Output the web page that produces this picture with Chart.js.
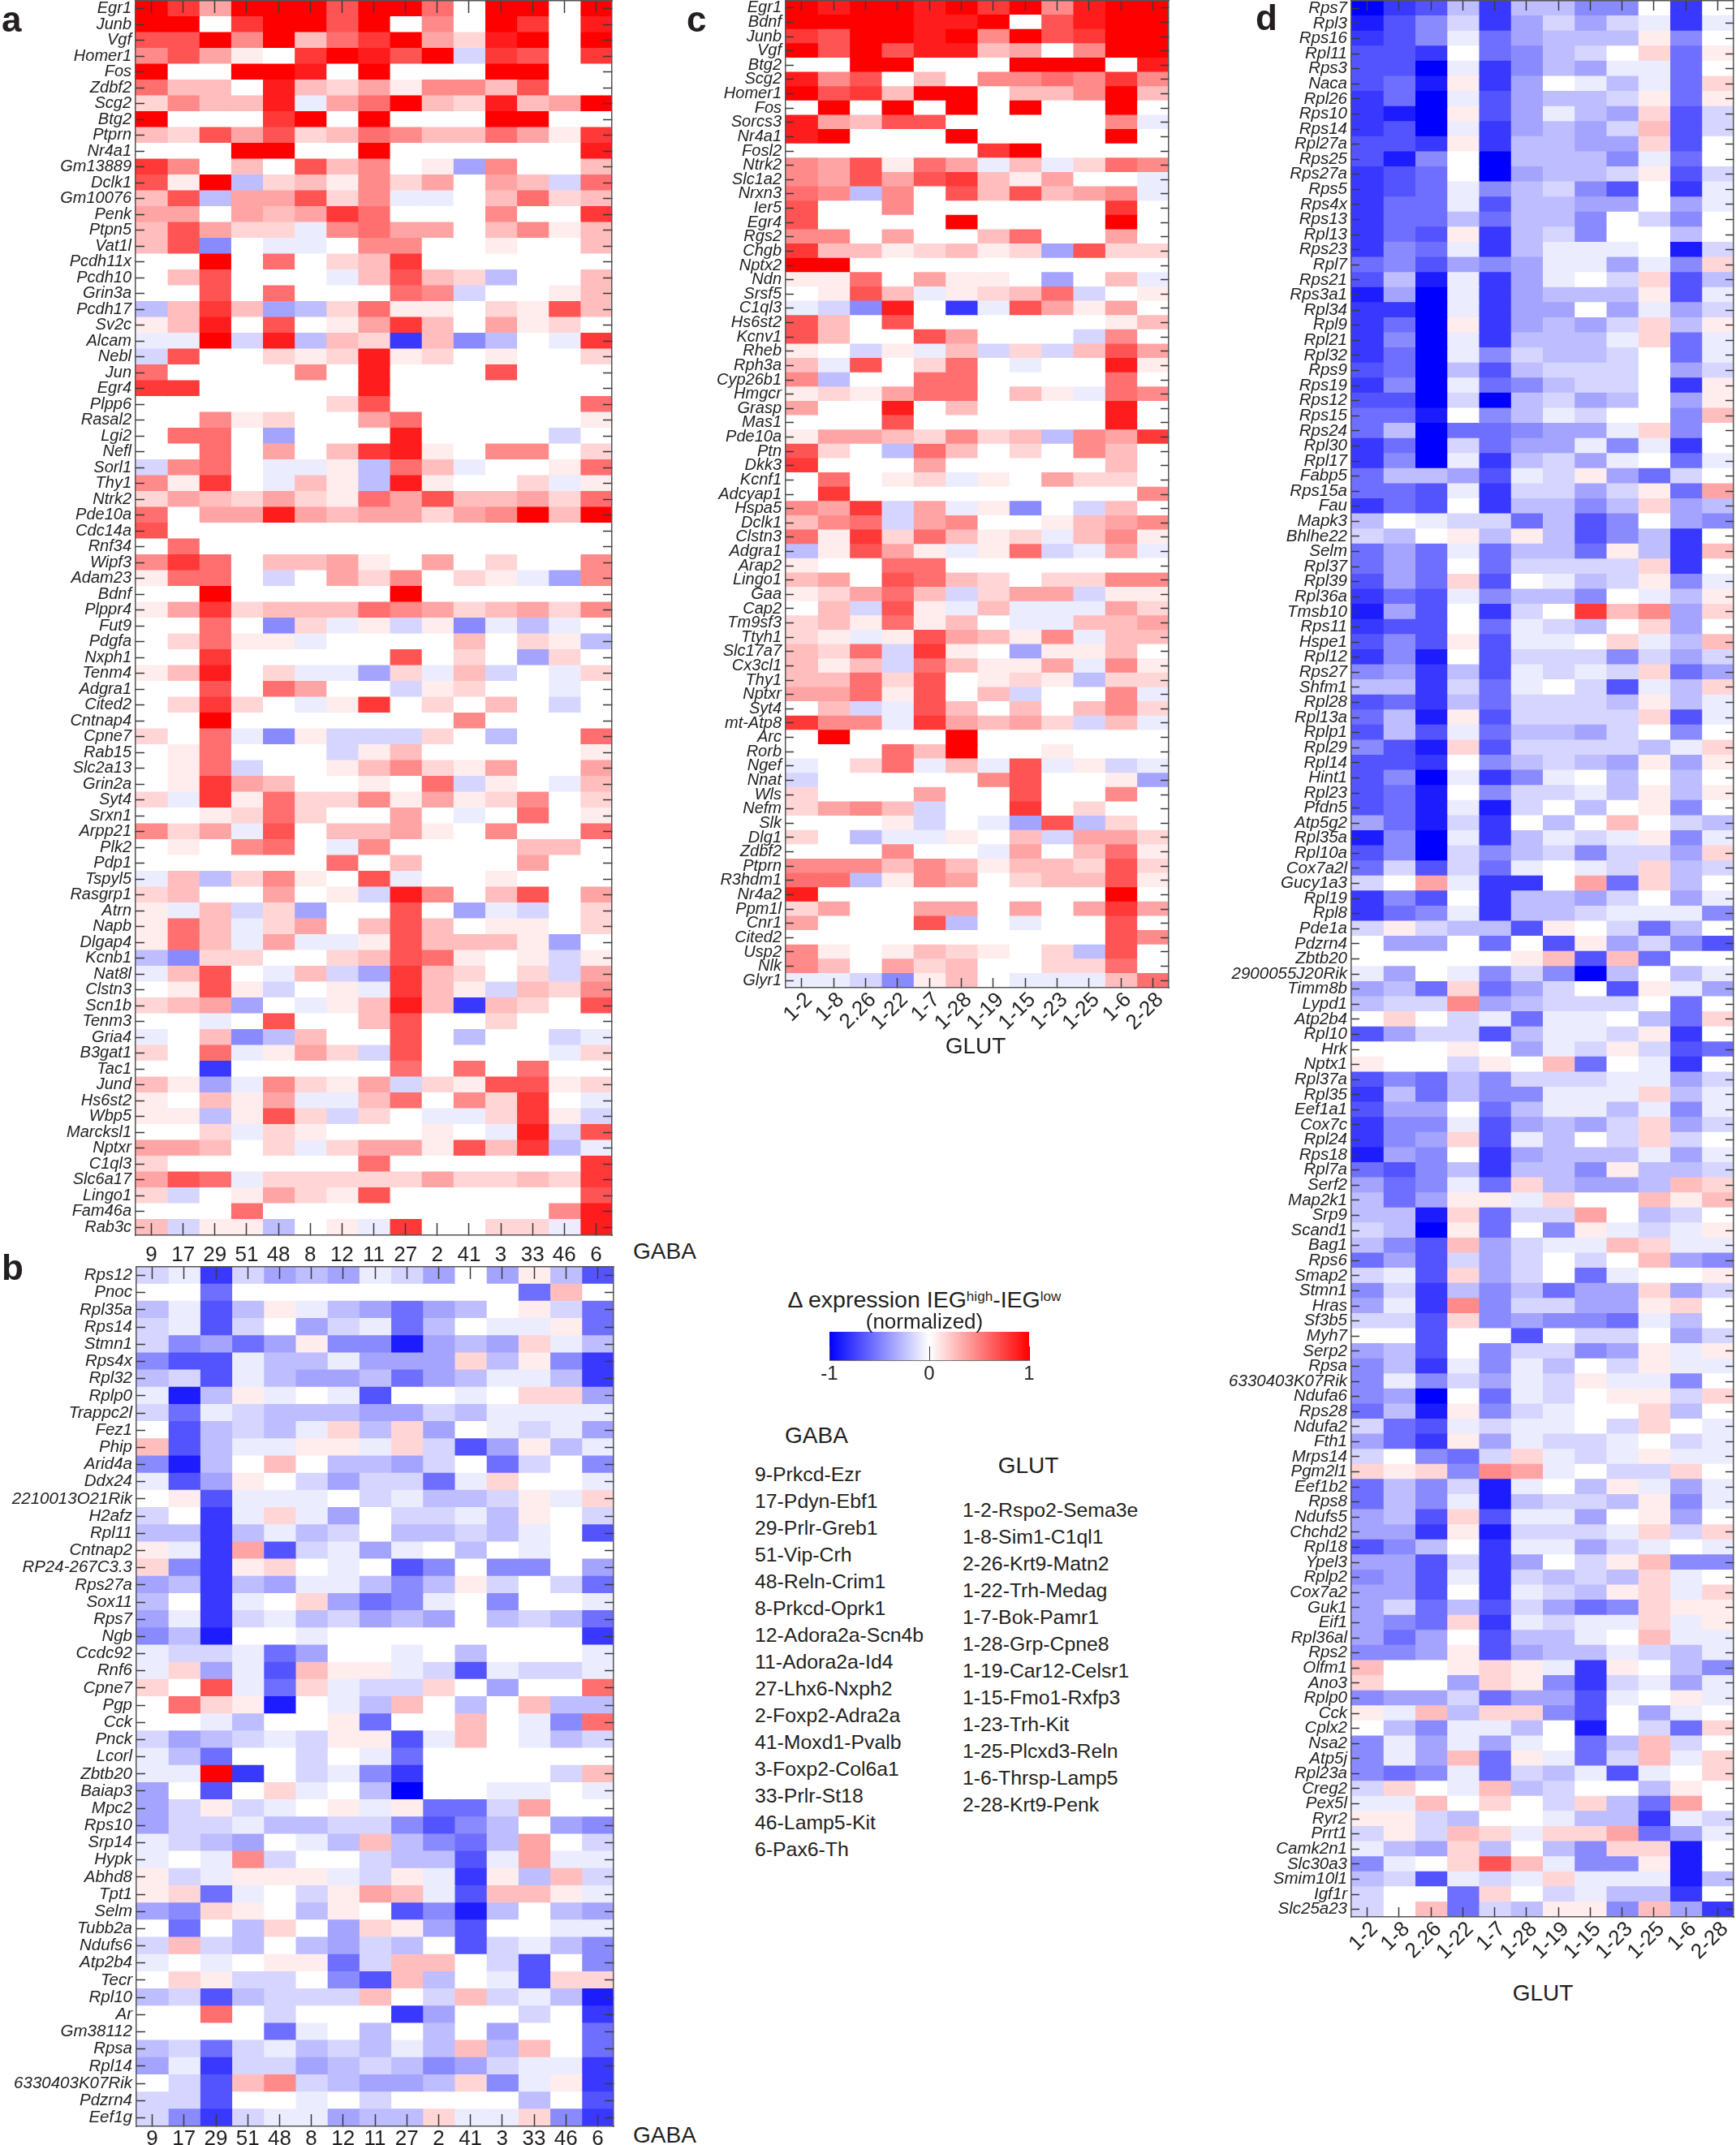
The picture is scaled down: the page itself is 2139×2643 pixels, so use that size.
<!DOCTYPE html>
<html>
<head>
<meta charset="utf-8">
<title>IEG heatmaps</title>
<script src="https://cdn.jsdelivr.net/npm/chart.js@4"></script>
<style>
  html, body { margin: 0; padding: 0; background: #fff; }
  body { position: relative; width: 2139px; height: 2643px; overflow: hidden; font-family: "Liberation Sans", Arial, sans-serif; color: #231f20; }
  canvas { position: absolute; }
  .txt { position: absolute; white-space: nowrap; line-height: 1; }
  .letter { font-weight: bold; font-size: 44px; }
  sup { font-size: 60%; vertical-align: baseline; position: relative; top: -0.45em; }
</style>
</head>
<body>
<script>
// x axis labels
const gabaClusters = ['9','17','29','51','48','8','12','11','27','2','41','3','33','46','6'];
const glutClusters = ['1-2','1-8','2.26','1-22','1-7','1-28','1-19','1-15','1-23','1-25','1-6','2-28'];

// legends
const gabaNames = ['9-Prkcd-Ezr','17-Pdyn-Ebf1','29-Prlr-Greb1','51-Vip-Crh','48-Reln-Crim1','8-Prkcd-Oprk1','12-Adora2a-Scn4b','11-Adora2a-Id4','27-Lhx6-Nxph2','2-Foxp2-Adra2a','41-Moxd1-Pvalb','3-Foxp2-Col6a1','33-Prlr-St18','46-Lamp5-Kit','6-Pax6-Th'];
const glutNames = ['1-2-Rspo2-Sema3e','1-8-Sim1-C1ql1','2-26-Krt9-Matn2','1-22-Trh-Medag','1-7-Bok-Pamr1','1-28-Grp-Cpne8','1-19-Car12-Celsr1','1-15-Fmo1-Rxfp3','1-23-Trh-Kit','1-25-Plcxd3-Reln','1-6-Thrsp-Lamp5','2-28-Krt9-Penk'];

// panel a, values in tenths (-10 blue .. 10 red)
const genesA = ['Egr1','Junb','Vgf','Homer1','Fos','Zdbf2','Scg2','Btg2','Ptprn','Nr4a1','Gm13889','Dclk1','Gm10076','Penk','Ptpn5','Vat1l','Pcdh11x','Pcdh10','Grin3a','Pcdh17','Sv2c','Alcam','Nebl','Jun','Egr4','Plpp6','Rasal2','Lgi2','Nefl','Sorl1','Thy1','Ntrk2','Pde10a','Cdc14a','Rnf34','Wipf3','Adam23','Bdnf','Plppr4','Fut9','Pdgfa','Nxph1','Tenm4','Adgra1','Cited2','Cntnap4','Cpne7','Rab15','Slc2a13','Grin2a','Syt4','Srxn1','Arpp21','Plk2','Pdp1','Tspyl5','Rasgrp1','Atrn','Napb','Dlgap4','Kcnb1','Nat8l','Clstn3','Scn1b','Tenm3','Gria4','B3gat1','Tac1','Jund','Hs6st2','Wbp5','Marcksl1','Nptxr','C1ql3','Slc6a17','Lingo1','Fam46a','Rab3c'];
const valuesA = [
[10,8,4,10,10,10,7,10,10,6,0,10,10,0,10],
[10,10,0,8,10,10,7,10,0,5,0,10,8,0,9],
[7,7,10,5,10,3,6,8,10,4,2,9,10,0,10],
[5,7,4,1,0,8,10,9,7,10,-2,8,7,0,8],
[10,0,0,10,10,9,0,10,0,0,0,10,10,0,0],
[6,3,3,0,9,3,2,4,1,5,5,3,7,0,0],
[2,5,3,3,9,-1,4,6,10,3,2,9,3,4,10],
[10,0,0,0,8,10,0,10,0,0,0,10,10,0,0],
[3,2,7,4,7,2,3,6,5,3,3,6,4,1,8],
[0,0,0,10,10,0,0,10,0,0,0,0,0,0,9],
[8,5,0,3,0,7,3,5,0,1,-4,5,0,0,3],
[7,1,10,-3,2,3,1,5,2,4,0,4,3,-2,6],
[3,7,-3,4,4,7,2,5,-1,-1,0,3,6,2,3],
[4,4,0,4,3,4,8,6,0,0,0,5,0,0,8],
[3,7,4,2,2,-1,5,6,4,4,0,3,5,1,3],
[3,7,-5,0,-1,-1,0,5,5,0,0,1,0,0,3],
[0,0,10,0,6,0,2,3,8,0,0,0,0,0,0],
[0,3,7,0,0,0,-1,3,7,3,2,-3,0,0,3],
[0,0,7,0,6,0,0,0,6,5,-2,0,0,1,3],
[-3,3,8,3,-4,-3,2,6,1,1,0,2,1,7,3],
[1,3,9,0,7,0,1,4,8,3,0,4,1,2,0],
[-1,-1,10,-2,9,-3,3,2,-8,3,-5,-3,0,-1,8],
[-2,7,0,0,2,1,2,9,1,2,0,1,0,0,2],
[6,0,0,0,0,5,0,9,0,0,0,7,0,0,0],
[8,8,0,0,0,0,0,9,0,0,0,0,0,0,0],
[0,0,0,0,0,0,2,7,0,0,0,0,0,0,6],
[0,0,5,1,2,0,0,4,6,0,0,0,0,0,1],
[0,6,6,0,-4,0,0,0,9,0,0,0,0,-2,0],
[0,0,6,0,4,0,3,8,9,1,0,5,5,0,2],
[-2,5,6,0,-1,-1,1,-3,6,3,-1,0,0,1,6],
[5,1,8,0,-1,3,1,-3,9,1,0,0,2,-1,1],
[2,4,3,2,4,2,1,6,4,7,3,3,4,2,6],
[6,0,4,4,9,4,3,4,4,2,4,5,10,3,10],
[7,0,0,0,0,0,0,0,0,0,0,0,0,0,0],
[0,6,0,0,0,0,0,0,0,0,0,0,0,0,0],
[5,8,6,0,3,3,4,1,0,4,0,2,0,0,5],
[1,6,6,0,-2,0,4,2,5,0,2,1,-1,-4,5],
[0,0,10,0,0,0,0,0,10,0,0,0,0,0,0],
[1,4,8,2,3,3,3,6,5,4,2,3,4,2,5],
[0,0,6,0,-5,2,-1,1,-2,1,-5,-1,-3,-1,0],
[0,2,6,1,1,-1,0,0,0,0,3,0,2,1,-3],
[0,0,8,0,0,0,0,0,7,0,2,0,-4,2,0],
[1,3,9,0,2,-1,-1,-4,2,-1,3,-2,0,-1,2],
[0,0,7,0,6,4,0,0,-2,1,2,0,0,-1,0],
[0,2,8,2,0,-1,1,8,0,2,0,3,0,-2,0],
[0,0,10,0,0,0,0,0,0,0,5,0,0,0,0],
[2,0,6,-1,-5,1,-2,-2,-2,2,0,-3,0,0,6],
[0,1,6,0,0,0,-2,1,3,0,0,0,0,0,1],
[0,1,6,-2,0,0,1,3,5,2,1,4,0,0,4],
[0,1,8,4,3,0,0,1,0,6,-2,1,0,-1,3],
[2,-1,8,1,6,2,2,5,1,4,1,2,5,0,2],
[0,0,1,2,6,2,0,0,4,0,-1,0,6,0,1],
[5,2,4,-1,7,0,3,3,4,1,0,5,0,0,6],
[0,1,0,5,6,0,-1,5,0,0,0,0,3,3,0],
[0,0,0,0,0,0,6,0,3,0,0,0,4,0,0],
[-1,3,-3,2,5,1,0,7,-1,0,0,1,0,0,0],
[2,3,0,0,4,0,1,-2,9,5,0,3,7,0,4],
[1,-1,3,-2,2,-4,0,0,7,0,-4,-1,-2,0,2],
[1,6,3,-1,2,4,0,3,7,3,0,1,1,0,2],
[1,6,3,-1,4,-1,-1,1,7,3,3,3,1,-4,0],
[-3,-5,2,2,0,0,2,3,7,6,1,0,1,-2,1],
[-1,3,7,0,-1,3,-2,-4,8,3,2,0,2,-2,4],
[0,1,7,1,-2,0,1,-1,8,3,1,-2,3,2,5],
[2,3,4,-4,0,-1,1,3,9,3,-8,3,2,0,7],
[0,0,-1,0,7,0,0,3,7,0,0,2,0,0,0],
[-1,0,3,-5,-3,3,0,0,7,0,-3,0,0,-2,-1],
[2,0,6,-1,1,4,2,-2,7,0,0,0,0,-1,2],
[0,0,-8,0,0,0,0,0,6,0,6,0,6,0,0],
[3,1,-4,-1,5,2,1,4,-2,2,1,7,7,1,2],
[1,0,3,1,4,-1,-1,3,6,0,5,2,8,0,-1],
[1,1,-3,1,7,2,-2,2,0,-1,-1,2,8,1,-2],
[0,0,2,-1,2,1,0,0,0,1,0,-1,9,-2,7],
[4,4,3,0,2,-1,2,4,4,1,7,3,8,-3,-1],
[2,0,0,0,0,0,0,6,0,0,0,0,0,0,8],
[4,7,6,-1,2,2,2,2,2,4,2,2,3,2,8],
[2,-2,0,1,4,2,1,7,0,0,0,0,0,0,7],
[0,0,0,6,0,0,0,0,0,0,0,0,0,5,9],
[3,-2,1,1,-3,0,1,-1,8,0,0,2,2,-1,9]
];

// panel b
const genesB = ['Rps12','Pnoc','Rpl35a','Rps14','Stmn1','Rps4x','Rpl32','Rplp0','Trappc2l','Fez1','Phip','Arid4a','Ddx24','2210013O21Rik','H2afz','Rpl11','Cntnap2','RP24-267C3.3','Rps27a','Sox11','Rps7','Ngb','Ccdc92','Rnf6','Cpne7','Pgp','Cck','Pnck','Lcorl','Zbtb20','Baiap3','Mpc2','Rps10','Srp14','Hypk','Abhd8','Tpt1','Selm','Tubb2a','Ndufs6','Atp2b4','Tecr','Rpl10','Ar','Gm38112','Rpsa','Rpl14','6330403K07Rik','Pdzrn4','Eef1g'];
const valuesB = [
[-2,-1,-8,-2,-4,-3,-4,-1,-2,-4,0,-4,1,-3,-7],
[0,0,-6,0,0,0,0,0,0,0,0,0,-6,3,0],
[-3,-1,-7,-3,1,-1,-3,-4,-6,-4,-3,0,1,-2,-6],
[-2,-1,-7,-2,0,-4,-2,-1,-6,-3,0,-1,-1,1,-6],
[-2,-5,-4,-6,-4,1,-5,-5,-9,-4,-3,-4,2,-1,-3],
[-5,-7,-7,-1,-3,-3,-1,-4,-4,-4,2,-3,1,-5,-8],
[-3,-2,-7,-1,-3,-4,-4,-3,-6,-4,-3,-1,-1,-3,-8],
[-1,-9,-3,1,-1,0,-1,-7,0,0,-1,0,2,2,-4],
[-2,-6,-1,-2,-3,-3,-3,-4,-4,-2,-3,-1,-1,-1,-1],
[0,-7,-3,-2,-3,-1,2,-3,2,-4,0,-1,-2,-1,-4],
[3,-7,-3,-1,-1,1,1,-1,2,-2,-7,-4,1,-3,-1],
[-5,-9,-3,0,3,0,-3,-3,-4,-2,0,-6,-2,0,-5],
[-1,-7,-4,1,0,-2,-4,-2,-2,-6,-1,2,0,0,-1],
[0,1,-7,-1,-1,-1,0,-2,-1,-3,-3,-2,1,-1,2],
[-2,0,-8,-1,2,-1,-4,0,-2,-2,-1,-3,1,0,-2],
[-3,-3,-8,-3,-1,-3,-2,0,-3,-3,-2,-3,-1,0,-7],
[1,-1,-8,4,-7,-2,-1,-4,-1,0,-3,0,-1,0,0],
[2,-5,-8,1,2,0,-1,0,-7,-5,0,-5,-5,0,-4],
[-4,-3,-8,-3,-4,-1,-1,-3,-5,-3,1,-2,0,-2,-6],
[-3,0,-8,-1,0,2,-4,-6,-5,-1,0,-5,0,0,-1],
[-4,-1,-8,-2,-1,-3,-2,-4,-3,-4,0,-3,-2,-3,-6],
[-5,-3,-9,0,0,-1,0,0,0,0,0,0,0,0,-8],
[-1,-2,-2,-1,-6,-4,0,0,-1,0,-3,0,0,0,-1],
[-1,2,-4,-1,-7,3,1,1,-1,-2,-7,-1,-2,-2,-1],
[2,0,7,-1,-6,2,-1,-2,-2,2,0,-4,0,0,6],
[0,6,2,1,-9,0,-1,-3,3,0,-3,0,3,-3,-3],
[0,0,-1,-3,0,0,1,-6,0,0,3,0,-1,-5,6],
[-2,-4,-3,-2,-1,-2,1,1,-7,-1,3,0,-1,-3,-2],
[-1,-3,-6,0,0,-2,0,-1,-6,0,0,0,0,0,0],
[-1,-1,10,-8,0,-2,-1,-5,-8,0,0,0,0,-2,3],
[-4,0,-7,0,2,-1,0,-3,-10,0,0,-1,-1,0,-1],
[-4,-2,1,-2,-1,0,1,-1,1,-6,-6,-2,4,0,0],
[-4,-2,-2,-1,-3,-3,-2,-2,-5,-7,-5,-3,0,-4,-5],
[-1,-2,-3,-4,0,-1,-3,3,-3,-5,-6,-3,4,0,-2],
[-1,0,-1,5,-2,0,0,-2,-3,-3,-7,-1,4,-1,-1],
[1,-2,-1,1,1,1,-1,-2,1,-1,-8,1,-3,3,-2],
[1,2,-6,-1,0,-2,1,4,3,-1,-7,3,3,1,-1],
[-4,-5,2,1,0,-3,1,0,-7,-5,-9,-3,0,-3,-4],
[0,-6,0,-3,2,0,-4,2,1,-4,-7,0,0,-1,-1],
[-2,3,-2,-3,0,-3,-4,-2,-3,0,-7,-2,-1,-3,-5],
[-1,0,-1,0,1,1,-6,-2,3,3,0,-2,-7,0,-5],
[0,2,1,-2,-2,0,-5,-7,3,-3,0,-1,-7,2,2],
[-3,-2,-7,-3,-2,-2,-2,3,0,-2,3,-2,-1,-3,-9],
[0,0,6,0,-2,0,0,0,-8,-4,0,0,-2,0,-8],
[0,0,0,0,-6,-1,0,-3,0,-3,0,-4,0,0,-6],
[-3,-2,-6,-2,-1,-3,-2,-3,-1,-3,3,-3,3,0,-6],
[-4,-1,-8,-2,-2,-4,-3,-2,-3,-5,-4,-2,-1,-1,-8],
[0,-2,-7,3,5,-2,-3,-4,-4,-3,2,-5,-1,1,-8],
[-2,-2,-7,0,0,-1,0,-2,0,0,0,0,-3,0,-7],
[-2,-5,-8,-2,-1,-1,-4,-3,-3,2,-1,-1,2,-5,-8]
];

// panel c
const genesC = ['Egr1','Bdnf','Junb','Vgf','Btg2','Scg2','Homer1','Fos','Sorcs3','Nr4a1','Fosl2','Ntrk2','Slc1a2','Nrxn3','Ier5','Egr4','Rgs2','Chgb','Nptx2','Ndn','Srsf5','C1ql3','Hs6st2','Kcnv1','Rheb','Rph3a','Cyp26b1','Hmgcr','Grasp','Mas1','Pde10a','Ptn','Dkk3','Kcnf1','Adcyap1','Hspa5','Dclk1','Clstn3','Adgra1','Arap2','Lingo1','Gaa','Cap2','Tm9sf3','Ttyh1','Slc17a7','Cx3cl1','Thy1','Nptxr','Syt4','mt-Atp8','Arc','Rorb','Ngef','Nnat','Wls','Nefm','Slk','Dlg1','Zdbf2','Ptprn','R3hdm1','Nr4a2','Ppm1l','Cnr1','Cited2','Usp2','Nlk','Glyr1'];
const valuesC = [
[10,9,10,10,9,10,8,10,5,9,10,10],
[10,10,10,10,9,9,10,0,7,9,10,10],
[8,7,10,10,9,10,5,10,7,8,10,10],
[10,7,10,7,9,9,3,4,0,5,10,10],
[0,0,10,10,0,0,0,10,10,10,0,9],
[9,5,7,0,3,0,5,5,6,5,8,5],
[10,7,8,3,10,10,0,3,3,5,10,3],
[0,10,0,10,0,10,0,10,0,0,10,0],
[9,4,3,7,7,0,0,0,0,0,5,-1],
[9,10,0,0,0,10,0,0,0,0,10,0],
[0,0,0,0,0,0,8,10,0,0,0,0],
[5,4,7,1,6,4,-1,3,-1,2,6,5],
[5,4,7,4,7,8,3,1,4,0,0,-1],
[6,5,-3,5,0,7,3,7,3,4,5,-1],
[7,0,0,5,0,0,0,0,0,0,8,0],
[7,0,0,0,0,10,0,0,0,0,10,0],
[5,5,0,4,0,0,3,6,0,0,4,0],
[8,3,3,1,2,3,1,2,-4,7,2,2],
[10,10,0,0,0,0,0,0,0,0,0,0],
[1,1,6,0,4,1,1,0,-4,0,3,-1],
[0,1,7,3,-1,1,2,3,6,-2,0,1],
[-1,-2,-5,9,0,-8,-1,7,4,1,4,0],
[7,3,0,7,0,0,0,0,0,0,1,3],
[7,3,0,0,7,4,0,0,0,-2,5,0],
[1,0,-2,1,-1,3,-2,2,-2,3,7,4],
[3,-1,7,0,2,6,0,-1,0,0,9,1],
[5,-3,0,0,6,6,0,0,0,0,6,0],
[1,2,1,4,6,6,0,3,1,-1,6,5],
[4,0,0,9,0,3,0,0,0,0,9,0],
[0,0,0,7,0,0,0,0,0,0,9,0],
[1,4,4,3,2,5,2,3,-3,5,4,8],
[7,2,0,-3,6,3,0,2,0,5,3,0],
[8,0,0,0,4,0,0,0,0,0,3,0],
[0,6,0,1,2,-1,1,0,4,2,2,0],
[0,8,0,0,0,0,0,0,0,0,0,5],
[5,4,8,-2,4,-1,1,-5,0,-2,3,0],
[3,5,6,-2,4,5,0,0,1,3,4,5],
[6,1,8,2,6,3,1,2,-1,3,5,1],
[-3,1,7,4,1,-1,1,6,-2,-1,4,-1],
[1,0,0,6,6,0,0,0,0,0,0,0],
[3,4,0,7,6,3,2,0,2,2,5,5],
[1,2,4,6,3,-2,2,4,4,-2,1,1],
[0,3,-2,7,1,-1,3,-1,-1,-1,4,2],
[2,3,1,6,1,3,0,-1,-1,3,3,4],
[2,1,-1,1,7,4,3,1,5,-1,3,3],
[3,2,6,-2,8,1,0,-4,1,1,3,0],
[3,1,3,-2,6,3,1,1,4,-1,5,1],
[3,3,6,2,7,0,1,2,1,-3,2,2],
[4,4,6,1,7,0,3,-2,0,0,5,-1],
[0,3,-2,-1,7,3,0,3,0,3,5,2],
[8,5,5,-1,8,4,3,4,2,-2,3,-1],
[0,10,0,0,0,10,0,0,0,0,0,0],
[0,0,0,6,3,10,0,0,1,0,0,0],
[-1,0,2,6,-1,3,-1,7,-1,1,-2,-1],
[-2,0,0,0,0,0,5,7,0,0,1,-4],
[2,0,0,0,4,0,0,7,0,0,5,0],
[2,4,5,3,-2,0,0,8,0,2,0,0],
[0,0,0,1,-2,0,-1,-4,7,-3,2,0],
[2,0,-3,-1,-1,1,0,3,-2,4,4,2],
[0,0,0,5,0,0,-1,4,0,3,6,1],
[5,5,5,3,5,3,1,3,3,2,7,2],
[6,6,-3,1,5,4,0,2,3,3,7,1],
[9,0,0,0,0,0,0,0,0,0,10,0],
[2,4,0,0,4,4,0,4,0,4,8,4],
[4,0,0,0,7,-3,0,-1,0,0,7,0],
[0,0,0,0,0,0,0,0,0,0,7,5],
[5,1,0,1,3,2,1,0,2,-3,7,0],
[5,3,0,4,2,3,0,0,2,2,6,0],
[-1,-1,-2,-5,1,3,0,-1,-1,-1,3,6]
];

// panel d
const genesD = ['Rps7','Rpl3','Rps16','Rpl11','Rps3','Naca','Rpl26','Rps10','Rps14','Rpl27a','Rps25','Rps27a','Rps5','Rps4x','Rps13','Rpl13','Rps23','Rpl7','Rps21','Rps3a1','Rpl34','Rpl9','Rpl21','Rpl32','Rps9','Rps19','Rps12','Rps15','Rps24','Rpl30','Rpl17','Fabp5','Rps15a','Fau','Mapk3','Bhlhe22','Selm','Rpl37','Rpl39','Rpl36a','Tmsb10','Rps11','Hspe1','Rpl12','Rps27','Shfm1','Rpl28','Rpl13a','Rplp1','Rpl29','Rpl14','Hint1','Rpl23','Pfdn5','Atp5g2','Rpl35a','Rpl10a','Cox7a2l','Gucy1a3','Rpl19','Rpl8','Pde1a','Pdzrn4','Zbtb20','2900055J20Rik','Timm8b','Lypd1','Atp2b4','Rpl10','Hrk','Nptx1','Rpl37a','Rpl35','Eef1a1','Cox7c','Rpl24','Rps18','Rpl7a','Serf2','Map2k1','Srp9','Scand1','Bag1','Rps6','Smap2','Stmn1','Hras','Sf3b5','Myh7','Serp2','Rpsa','6330403K07Rik','Ndufa6','Rps28','Ndufa2','Fth1','Mrps14','Pgm2l1','Eef1b2','Rps8','Ndufs5','Chchd2','Rpl18','Ypel3','Rplp2','Cox7a2','Guk1','Eif1','Rpl36al','Rps2','Olfm1','Ano3','Rplp0','Cck','Cplx2','Nsa2','Atp5j','Rpl23a','Creg2','Pex5l','Ryr2','Prrt1','Camk2n1','Slc30a3','Smim10l1','Igf1r','Slc25a23'];
const valuesD = [
[-10,-8,-7,-3,-8,-3,-3,-5,-5,0,-8,0],
[-9,-7,-5,-2,-8,-4,-2,-4,-2,-1,-8,-1],
[-8,-7,-5,-1,-6,-4,-3,-3,-3,1,-5,0],
[-7,-7,-8,0,-6,-5,-3,-2,0,2,-6,1],
[-7,-7,-10,-1,-8,-5,-3,-4,-1,-1,-6,0],
[-7,-6,-9,1,-8,-4,0,-1,-3,-1,-6,2],
[-8,-6,-10,-1,-7,-4,-3,-3,-2,1,-6,1],
[-8,-9,-10,1,-7,-4,-1,-3,-4,2,-7,-2],
[-8,-7,-10,-1,-8,-4,-3,-4,-2,3,-7,-2],
[-7,-7,-8,1,-8,-3,-3,-4,-4,2,-7,0],
[-7,-9,-5,0,-10,-3,-3,-3,-5,-1,-6,0],
[-8,-7,-6,0,-10,-4,-3,-3,-2,1,-7,-2],
[-8,-7,-6,-1,-5,-3,-2,-5,-7,0,-8,-1],
[-8,-6,-6,-1,-7,-3,-3,-4,-4,0,-4,-1],
[-8,-6,-6,-3,-6,-3,-3,-5,0,-2,-5,0],
[-8,-6,-7,1,-8,-3,-2,-5,0,0,-3,0],
[-8,-5,-6,-1,-8,-3,-1,-1,-1,0,-9,-2],
[-6,-5,-7,-4,-5,-4,-1,-1,-4,-1,-5,2],
[-7,-3,-9,-1,-8,-4,-1,0,-2,2,-7,-3],
[-9,-4,-10,-1,-8,-4,-3,-3,-3,1,-7,-1],
[-8,-8,-10,-1,-8,-4,-4,0,-4,-1,-4,-2],
[-8,-6,-10,1,-8,-4,-3,-4,-2,2,-3,1],
[-8,-5,-10,-1,-8,-3,-3,-3,-1,2,-6,-1],
[-8,-6,-10,-1,-5,-2,-3,-3,-2,0,-6,-1],
[-7,-6,-10,-3,-7,-3,-2,-2,-2,0,-4,-2],
[-8,-5,-10,-1,-6,-5,-3,-2,-2,0,-8,1],
[-7,-7,-10,-2,-10,-3,-2,-4,-3,0,-4,1],
[-6,-6,-9,0,-5,-3,-1,-2,0,0,-5,3],
[-6,-3,-10,-6,-6,-5,-4,-4,-1,2,-5,0],
[-8,-6,-10,-2,-6,-4,-4,-1,-5,-1,-8,0],
[-8,-5,-10,-1,-8,-3,-2,-4,-1,0,-6,-1],
[-6,-3,-3,-4,-7,-1,-2,1,-4,-6,-2,0],
[-6,-6,-7,-1,-8,-2,-2,-4,-2,1,-6,4],
[-8,-6,-7,0,-8,-3,-3,-5,-3,2,-4,-3],
[-3,0,-1,-2,-2,-6,-3,-7,-5,0,-4,-5],
[-2,-3,0,1,-3,1,-3,-7,-5,-3,-8,0],
[-6,-4,-6,-1,-6,-3,-3,-6,1,-3,-8,3],
[-6,-4,-6,0,-6,-2,-2,-2,-2,2,-8,0],
[-7,-4,-6,2,-7,0,-1,-3,-2,1,-5,-1],
[-8,-6,-7,-1,-5,-3,-3,-5,0,-1,-3,1],
[-9,-4,-7,0,-8,-2,0,8,3,5,-4,2],
[-8,-7,-7,0,-6,-1,-2,-3,0,2,-4,0],
[-7,-5,-7,1,-7,-1,-1,0,2,-1,-3,3],
[-8,-5,-9,0,-7,-2,-2,-2,-5,-2,-4,-2],
[-5,-4,-8,-3,-7,-1,-2,-1,-2,2,-6,-4],
[-3,-3,-8,-2,-6,-1,0,-2,-7,-1,-3,2],
[-7,-6,-8,-3,-6,-2,-2,-2,-3,1,-3,-1],
[-6,-3,-9,1,-7,-2,-2,-2,-2,2,-7,-1],
[-7,-3,-7,-1,-6,-3,-3,-4,-2,0,-5,0],
[-5,-7,-9,2,-7,-2,-2,-2,-2,-3,-1,2],
[-7,-7,-8,0,-5,-3,-2,-3,-4,1,-4,1],
[-7,-5,-10,-1,-8,-5,-1,0,-3,0,-3,0],
[-7,-6,-9,0,-5,-2,-2,-1,-3,1,-3,1],
[-7,-6,-9,-1,-9,-2,0,-3,0,1,-5,0],
[-4,-6,-9,-2,-8,0,-3,0,3,0,-2,-3],
[-9,-5,-10,-1,-8,-3,-1,-2,-1,1,-5,-1],
[-7,-5,-10,-2,-5,-3,-2,-5,-2,-2,-4,2],
[-6,-2,-7,-2,-6,-1,0,-1,-2,2,-3,-2],
[-2,0,4,-1,-8,-8,0,4,-6,2,-3,0],
[-8,-5,-7,0,-8,-3,-3,-4,-2,0,-4,-1],
[-8,-6,-5,-1,-8,-3,-3,-2,-1,-1,-1,-5],
[-2,1,-2,-3,-3,-7,1,0,-2,-6,-3,0],
[0,-4,-4,0,-6,0,-7,1,-4,-2,-5,-7],
[0,0,0,0,0,1,3,-7,3,-6,0,0],
[-1,-4,0,-1,-5,-2,-5,-10,-3,0,-3,-1],
[-4,-3,-6,2,-6,-4,-2,0,-7,1,-1,-4],
[-3,-2,-2,5,-4,-3,-2,-2,-2,0,-6,0],
[0,2,0,-2,-1,-6,-1,-1,0,-3,-6,2],
[-7,-4,-2,-2,-7,-3,-1,-1,-2,1,-8,0],
[0,0,0,1,0,-4,-1,-2,1,-2,-7,-6],
[1,0,0,-2,1,0,3,-6,0,-1,-8,0],
[-7,-5,-6,-3,-5,-2,-2,-2,-1,-1,-4,-2],
[-8,-3,-6,-3,-5,-5,-1,-1,-1,2,-3,-1],
[-7,-4,-4,0,-6,-3,-1,-1,-3,-1,-5,-1],
[-8,-5,-5,-1,-7,-4,-3,-4,-2,2,-4,-2],
[-8,-5,-4,2,-7,-1,-3,0,-2,2,-2,0],
[-9,-4,-5,0,-8,-4,-3,-3,-3,-1,-4,-1],
[-6,-7,-5,-3,-8,-3,-3,-5,1,-3,-3,-2],
[-4,-6,-5,-1,-6,2,-3,-4,-4,-3,3,2],
[-3,-6,-4,1,1,-1,2,0,0,3,1,3],
[-3,-3,-9,2,-6,-2,-2,4,0,-3,-2,0],
[-2,-3,-10,1,-6,0,-5,1,-1,-2,-1,1],
[-3,-5,-7,3,-4,-2,-1,-1,3,2,-1,-1],
[-6,-4,-7,-2,-4,-2,0,-2,0,3,-4,-5],
[-2,-1,-7,2,-4,-2,0,-6,-1,0,0,1],
[-5,-2,-8,-3,-5,-3,-6,-4,-4,2,-4,-2],
[-4,-1,-8,5,-5,-2,-2,-4,-4,1,2,0],
[-2,-2,-7,2,-5,-4,-5,-5,-6,-1,-3,0],
[0,0,-7,0,0,-7,0,-2,-2,0,-4,-2],
[-4,-3,-7,0,-5,-2,-2,-5,-4,1,-1,1],
[-5,-3,-8,-1,-5,-1,-3,0,-2,1,-1,-1],
[-5,-1,-5,-2,-4,-1,-2,1,-1,-1,-5,0],
[-5,-4,-10,0,-6,-1,-2,0,1,1,-2,2],
[-6,-3,-9,1,-5,-2,-1,0,0,2,-3,0],
[-2,-6,-7,-1,-2,-1,-1,0,-2,2,0,-1],
[-4,-6,-8,1,-4,-1,-2,-2,-1,0,-2,-1],
[-2,0,-5,-6,-2,2,-1,-2,-1,1,-1,-1],
[2,1,2,-5,5,4,-1,0,-2,-2,2,0],
[-6,-3,-5,-2,-9,-1,0,-3,1,-1,-4,-1],
[-6,-3,-5,-1,-9,-3,-2,-2,-3,1,-5,-1],
[-4,-3,-7,2,-7,-1,-1,-4,0,1,-4,0],
[-4,-4,-8,1,-9,-2,-2,-2,-1,2,-2,2],
[-7,-5,-3,0,-8,-1,-1,-4,-2,-1,0,-1],
[-4,-4,-7,-2,-8,-4,0,-2,1,3,-5,-5],
[-5,-4,-7,-1,-8,-2,-3,-2,-3,2,-1,0],
[-4,-4,-7,0,-8,-1,-2,-3,1,2,-1,2],
[-4,-2,-6,-3,-7,-2,-4,-6,-5,2,1,1],
[-4,-5,-6,2,-8,-1,-2,-1,-1,2,-1,1],
[-4,-6,-4,0,-7,-3,-3,-1,0,3,-1,-1],
[-5,-5,-4,1,-7,-4,-3,-3,-1,-2,-3,-1],
[3,0,0,1,2,1,-1,-8,1,0,-3,-5],
[2,0,0,-4,2,1,-5,-8,-2,-1,-4,-1],
[-5,-4,-4,-2,-6,-4,-4,-7,-1,0,1,-1],
[1,-1,3,-3,2,2,-5,-7,0,-4,-1,0],
[0,-3,-5,-1,-1,-3,0,-9,0,-2,-6,2],
[-5,-1,-4,-1,-4,-1,0,-6,-3,3,-2,0],
[-5,-1,-4,3,-6,1,-1,-6,-2,3,-1,2],
[-5,-6,-5,-1,-6,-2,-3,-1,-7,-1,0,2],
[-2,2,0,-1,3,-3,-2,0,0,-3,1,0],
[-1,-1,3,0,2,0,-2,2,-3,-6,4,0],
[1,1,-2,-3,0,0,-1,-3,-3,-8,-1,-2],
[-2,1,-2,3,2,-1,2,2,4,-6,-4,-1],
[-1,-3,-4,2,-3,0,-3,-5,2,2,-9,0],
[-5,-1,0,2,7,3,-1,-5,-5,1,-9,0],
[-3,-2,-7,-1,-2,-1,2,-1,-1,-1,-9,-3],
[-2,0,0,-6,2,0,-2,-1,-3,-3,-8,0],
[-2,0,3,-6,-2,-3,1,1,-5,3,-4,-8]
];

const inkColor = '#231f20';
const tickColor = '#3a3a3a';
const labelFont = '"Liberation Sans", Arial, sans-serif';

function cellColor(v) {
  const c = Math.round(255 * (1 - Math.pow(Math.abs(v) / 10, 1.12)));
  return v >= 0 ? `rgb(255,${c},${c})` : `rgb(${c},${c},255)`;
}

function addCanvas(left, top, width, height) {
  const c = document.createElement('canvas');
  c.width = width;
  c.height = height;
  c.style.left = left + 'px';
  c.style.top = top + 'px';
  c.style.width = width + 'px';
  c.style.height = height + 'px';
  document.body.appendChild(c);
  return c.getContext('2d');
}

function addText(html, left, top, cls, size, center) {
  const d = document.createElement('div');
  d.className = 'txt ' + (cls || '');
  d.innerHTML = html;
  d.style.left = left + 'px';
  d.style.top = top + 'px';
  if (size) d.style.fontSize = size + 'px';
  d.style.transform = center ? 'translate(-50%,-50%)' : 'translateY(-50%)';
  document.body.appendChild(d);
}

// axes keep a fixed size, without room for labels that stick out at the ends
function pinAxis(s, size) {
  if (s.isHorizontal()) s.height = size; else s.width = size;
  s.paddingTop = s.paddingBottom = s.paddingLeft = s.paddingRight = 0;
}

// p: plot box in page pixels, plus label settings
function heatmap(genes, clusters, values, p) {
  const leftW = p.left - p.canvasLeft;
  const plotW = p.right - p.left;
  const plotH = p.bottom - p.top;
  const ctx = addCanvas(p.canvasLeft, p.top - 1, leftW + plotW + 1, 1 + plotH + p.bottomH);

  const datasets = clusters.map((name, j) => ({
    label: name,
    data: genes.map(() => 1),
    backgroundColor: genes.map((g, i) => cellColor(values[i][j])),
    borderWidth: 0,
    inflateAmount: 0.5,
    barPercentage: 1,
    categoryPercentage: 1
  }));

  const centers = s => { s.ticks = clusters.map((c, i) => ({ value: i + 0.5 })); };
  const tickGrid = len => ({
    drawOnChartArea: false, drawTicks: true, tickLength: -len,
    tickColor: tickColor, tickWidth: 1.5, z: 1
  });
  const frame = { display: true, color: '#555', width: 1.5, z: 2 };

  new Chart(ctx, {
    type: 'bar',
    data: { labels: genes, datasets: datasets },
    options: {
      indexAxis: 'y',
      responsive: false,
      animation: false,
      events: [],
      layout: { padding: 0 },
      plugins: { legend: { display: false }, tooltip: { enabled: false } },
      scales: {
        x: {
          type: 'linear', stacked: true, position: 'bottom',
          min: 0, max: clusters.length,
          afterBuildTicks: centers,
          afterFit: s => pinAxis(s, p.bottomH),
          grid: tickGrid(p.xTick), border: frame,
          ticks: {
            autoSkip: false, z: 2, color: inkColor,
            font: { family: labelFont, size: p.xFont },
            padding: p.xPad,
            minRotation: p.rotate, maxRotation: p.rotate,
            labelOffset: p.xOffset,
            callback: (v, i) => clusters[i]
          }
        },
        x2: {
          type: 'linear', position: 'top',
          min: 0, max: clusters.length,
          afterBuildTicks: centers,
          afterFit: s => pinAxis(s, 1),
          grid: tickGrid(p.xTick), border: frame,
          ticks: { display: false }
        },
        y: {
          type: 'category', stacked: true, position: 'left', offset: true,
          afterFit: s => pinAxis(s, leftW),
          grid: Object.assign(tickGrid(p.yTick), { offset: false }), border: frame,
          ticks: {
            autoSkip: false, z: 2, color: inkColor,
            font: { family: labelFont, size: p.yFont, style: 'italic' },
            padding: p.yTick + 5
          }
        },
        y2: {
          type: 'category', position: 'right', offset: true, labels: genes,
          afterFit: s => pinAxis(s, 1),
          grid: Object.assign(tickGrid(p.yTick), { offset: false }), border: frame,
          ticks: { display: false }
        }
      }
    }
  });
}

// 15 GABA columns
heatmap(genesA, gabaClusters, valuesA, { canvasLeft: 0, left: 167, right: 754, top: 1, bottom: 1522, bottomH: 36, xTick: 15, yTick: 11, xFont: 26, yFont: 20, xPad: 24, rotate: 0, xOffset: 0 });
heatmap(genesB, gabaClusters, valuesB, { canvasLeft: 0, left: 168, right: 756, top: 1561, bottom: 2620, bottomH: 23, xTick: 15, yTick: 11, xFont: 26, yFont: 20.5, xPad: 15, rotate: 0, xOffset: 0 });
// 12 GLUT columns
heatmap(genesC, glutClusters, valuesC, { canvasLeft: 870, left: 968, right: 1440, top: 1, bottom: 1217, bottomH: 60, xTick: 12, yTick: 10, xFont: 26, yFont: 20, xPad: 12, rotate: 45, xOffset: 9 });
heatmap(genesD, glutClusters, valuesD, { canvasLeft: 1505, left: 1665, right: 2136, top: 1, bottom: 2362, bottomH: 60, xTick: 12, yTick: 10, xFont: 26, yFont: 20.5, xPad: 12, rotate: 45, xOffset: 9 });

// colour scale
const scaleTicks = [-1, 0, 1];
new Chart(addCanvas(1000, 1630, 300, 75), {
  type: 'bar',
  data: {
    labels: ['scale'],
    datasets: [{
      data: [[scaleTicks[0], scaleTicks[2]]],
      backgroundColor: c => {
        const a = c.chart.chartArea;
        if (!a) return '#fff';
        const g = c.chart.ctx.createLinearGradient(a.left, 0, a.right, 0);
        g.addColorStop(0, '#0000ff');
        g.addColorStop(0.5, '#ffffff');
        g.addColorStop(1, '#ff0000');
        return g;
      },
      barPercentage: 1,
      categoryPercentage: 1
    }]
  },
  options: {
    indexAxis: 'y',
    responsive: false,
    animation: false,
    events: [],
    layout: { padding: { left: 22, right: 32, top: 11, bottom: 0 } },
    plugins: { legend: { display: false }, tooltip: { enabled: false } },
    scales: {
      y: { display: false },
      x: {
        type: 'linear', min: -1, max: 1,
        afterBuildTicks: s => { s.ticks = scaleTicks.map(v => ({ value: v })); },
        afterFit: s => pinAxis(s, 29),
        grid: { drawOnChartArea: false, tickLength: -17, tickColor: tickColor, tickWidth: 1, z: 1 },
        border: { display: true, color: '#777', width: 1, z: 2 },
        ticks: { autoSkip: false, maxRotation: 0, color: inkColor, padding: 20, font: { family: labelFont, size: 24 }, callback: v => String(v) }
      }
    }
  }
});

// text around the charts
addText('a', 2, 24, 'letter');
addText('b', 2, 1562, 'letter');
addText('c', 846, 24, 'letter');
addText('d', 1547, 22, 'letter');
addText('GABA', 780, 1542, '', 28);
addText('GABA', 780, 2631, '', 28);
addText('GLUT', 1202, 1289, '', 28, true);
addText('GLUT', 1901, 2456, '', 28, true);
addText('&Delta; expression IEG<sup>high</sup>-IEG<sup>low</sup>', 1139, 1601, '', 28.5, true);
addText('(normalized)', 1139, 1628, '', 26, true);
addText('GABA', 1006, 1769, '', 28, true);
addText('GLUT', 1267, 1806, '', 28, true);
gabaNames.forEach((n, i) => addText(n, 930, 1817 + i * 33, '', 24.8));
glutNames.forEach((n, i) => addText(n, 1186, 1861 + i * 33, '', 24.8));
</script>
</body>
</html>
